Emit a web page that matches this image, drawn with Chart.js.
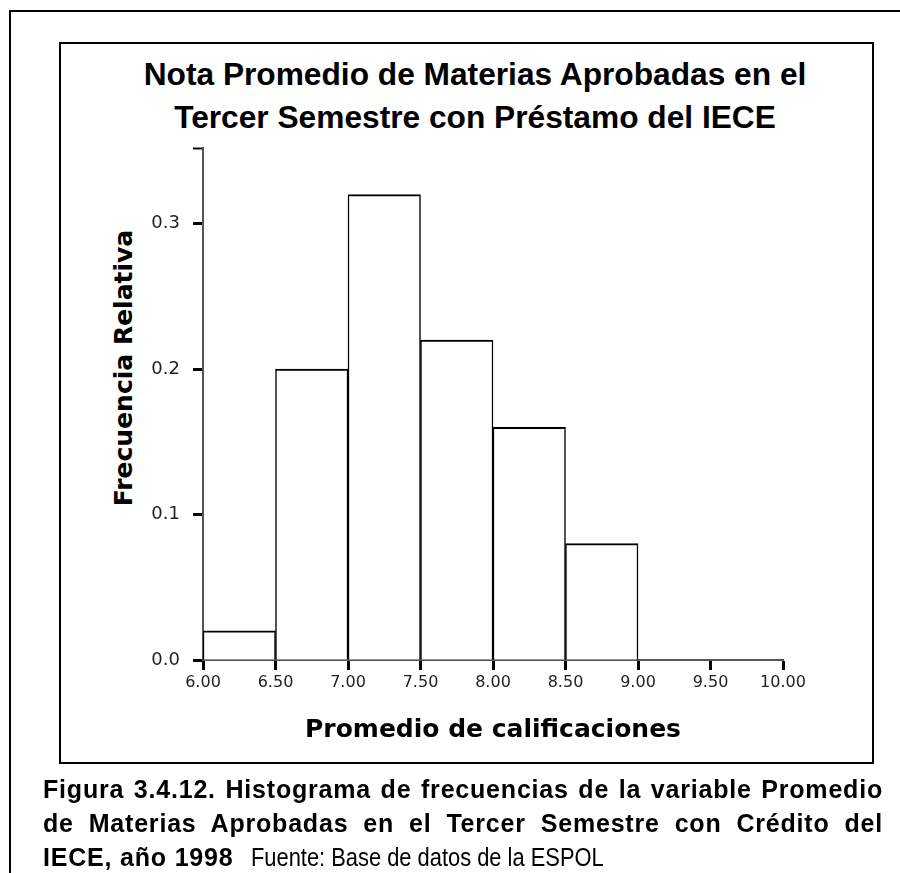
<!DOCTYPE html>
<html>
<head>
<meta charset="utf-8">
<script src="https://cdn.jsdelivr.net/npm/chart.js@4.4.1/dist/chart.umd.min.js"></script>
<style>
  body { margin: 0; background: #fff; }
  #page { position: relative; width: 900px; height: 873px; overflow: hidden; background: #fff; }
  #outer { position: absolute; left: 9px; top: 10px; width: 1000px; height: 1000px; border-left: 2px solid #000; border-top: 2px solid #000; }
  #inner { position: absolute; left: 59px; top: 42px; width: 811px; height: 718px; border: 2px solid #000; }
  #title { position: absolute; left: 59px; width: 832px; top: 53px; text-align: center; font: bold 31.7px "Liberation Sans", Arial, sans-serif; line-height: 43px; color: #000; }
  #ytitle { position: absolute; left: 123px; top: 368px; transform: translate(-50%, -50%) rotate(-90deg); white-space: nowrap; font: bold 25px "DejaVu Sans", sans-serif; color: #000; }
  #caption { position: absolute; left: 43px; top: 772px; width: 840px; font: bold 25px "Liberation Sans Narrow", "Arial Narrow", "Liberation Sans", sans-serif; line-height: 34px; color: #000; letter-spacing: 0.8px; }
  #caption .j { text-align: justify; text-align-last: justify; }
  #caption .src { display: inline-block; font-weight: normal; letter-spacing: 0; margin-left: 18px; transform: scaleX(0.875); transform-origin: left center; }
  canvas { position: absolute; left: 0; top: 0; }
</style>
</head>
<body>
<div id="page">
  <div id="outer"></div>
  <div id="inner"></div>
  <div id="title">Nota Promedio de Materias Aprobadas en el<br>Tercer Semestre con Préstamo del IECE</div>
  <div id="ytitle">Frecuencia Relativa</div>
  <canvas id="chart" width="900" height="873"></canvas>
  <div id="caption">
    <div class="j">Figura 3.4.12. Histograma de frecuencias de la variable Promedio</div>
    <div class="j">de Materias Aprobadas en el Tercer Semestre con Crédito del</div>
    <div>IECE, año 1998<span class="src">Fuente: Base de datos de la ESPOL</span></div>
  </div>
</div>
<script>
// histogram bins (edges) and relative frequency per bin
const binEdges = [6.0, 6.5, 7.0, 7.5, 8.0, 8.5, 9.0];
const relFreq = [0.02, 0.20, 0.32, 0.22, 0.16, 0.08];

const xTicks = [6.0, 6.5, 7.0, 7.5, 8.0, 8.5, 9.0, 9.5, 10.0];
const yTicks = [0.0, 0.1, 0.2, 0.3];
const yMax = 0.352;

const bars = relFreq.map((f, i) => ({ x: (binEdges[i] + binEdges[i + 1]) / 2, y: f }));

new Chart(document.getElementById('chart').getContext('2d'), {
  type: 'bar',
  data: {
    datasets: [{
      data: bars,
      backgroundColor: '#fff',
      borderColor: '#000',
      borderWidth: { top: 2, left: 1.5, right: 1.5, bottom: 0 },
      barPercentage: 1,
      categoryPercentage: 1
    }]
  },
  options: {
    responsive: false,
    animation: false,
    layout: { padding: { left: 103, right: 117, top: 148, bottom: 113 } },
    plugins: { legend: { display: false }, tooltip: { enabled: false } },
    scales: {
      x: {
        type: 'linear',
        min: 6,
        max: 10,
        offset: false,
        afterBuildTicks: s => { s.ticks = xTicks.map(v => ({ value: v })); },
        afterFit: s => { s.height = 100; },
        ticks: { callback: v => Number(v).toFixed(2), font: { family: 'DejaVu Sans', size: 16 }, color: '#222', padding: 3, maxRotation: 0, autoSkip: false },
        grid: { offset: false, drawOnChartArea: false, drawTicks: true, tickLength: 10, tickWidth: 3, tickColor: '#000' },
        border: { color: '#555', width: 2 },
        title: {
          display: true,
          text: 'Promedio de calificaciones',
          font: { family: 'DejaVu Sans', size: 25, weight: 'bold' },
          color: '#000',
          padding: { top: 0, bottom: 15 }
        }
      },
      y: {
        min: 0,
        max: yMax,
        afterBuildTicks: s => { s.ticks = yTicks.concat([yMax]).map(v => ({ value: v })); },
        afterFit: s => { s.width = 100; },
        ticks: {
          callback: v => yTicks.includes(v) ? v.toFixed(1) : '',
          font: { family: 'DejaVu Sans', size: 18 },
          color: '#222',
          padding: 13,
          autoSkip: false
        },
        grid: {
          drawOnChartArea: false,
          drawTicks: true,
          tickLength: 10,
          tickWidth: ctx => (ctx.tick && ctx.tick.value === yMax) ? 2 : 3,
          tickColor: '#000'
        },
        border: { color: '#555', width: 2 }
      }
    }
  }
});
</script>
</body>
</html>
